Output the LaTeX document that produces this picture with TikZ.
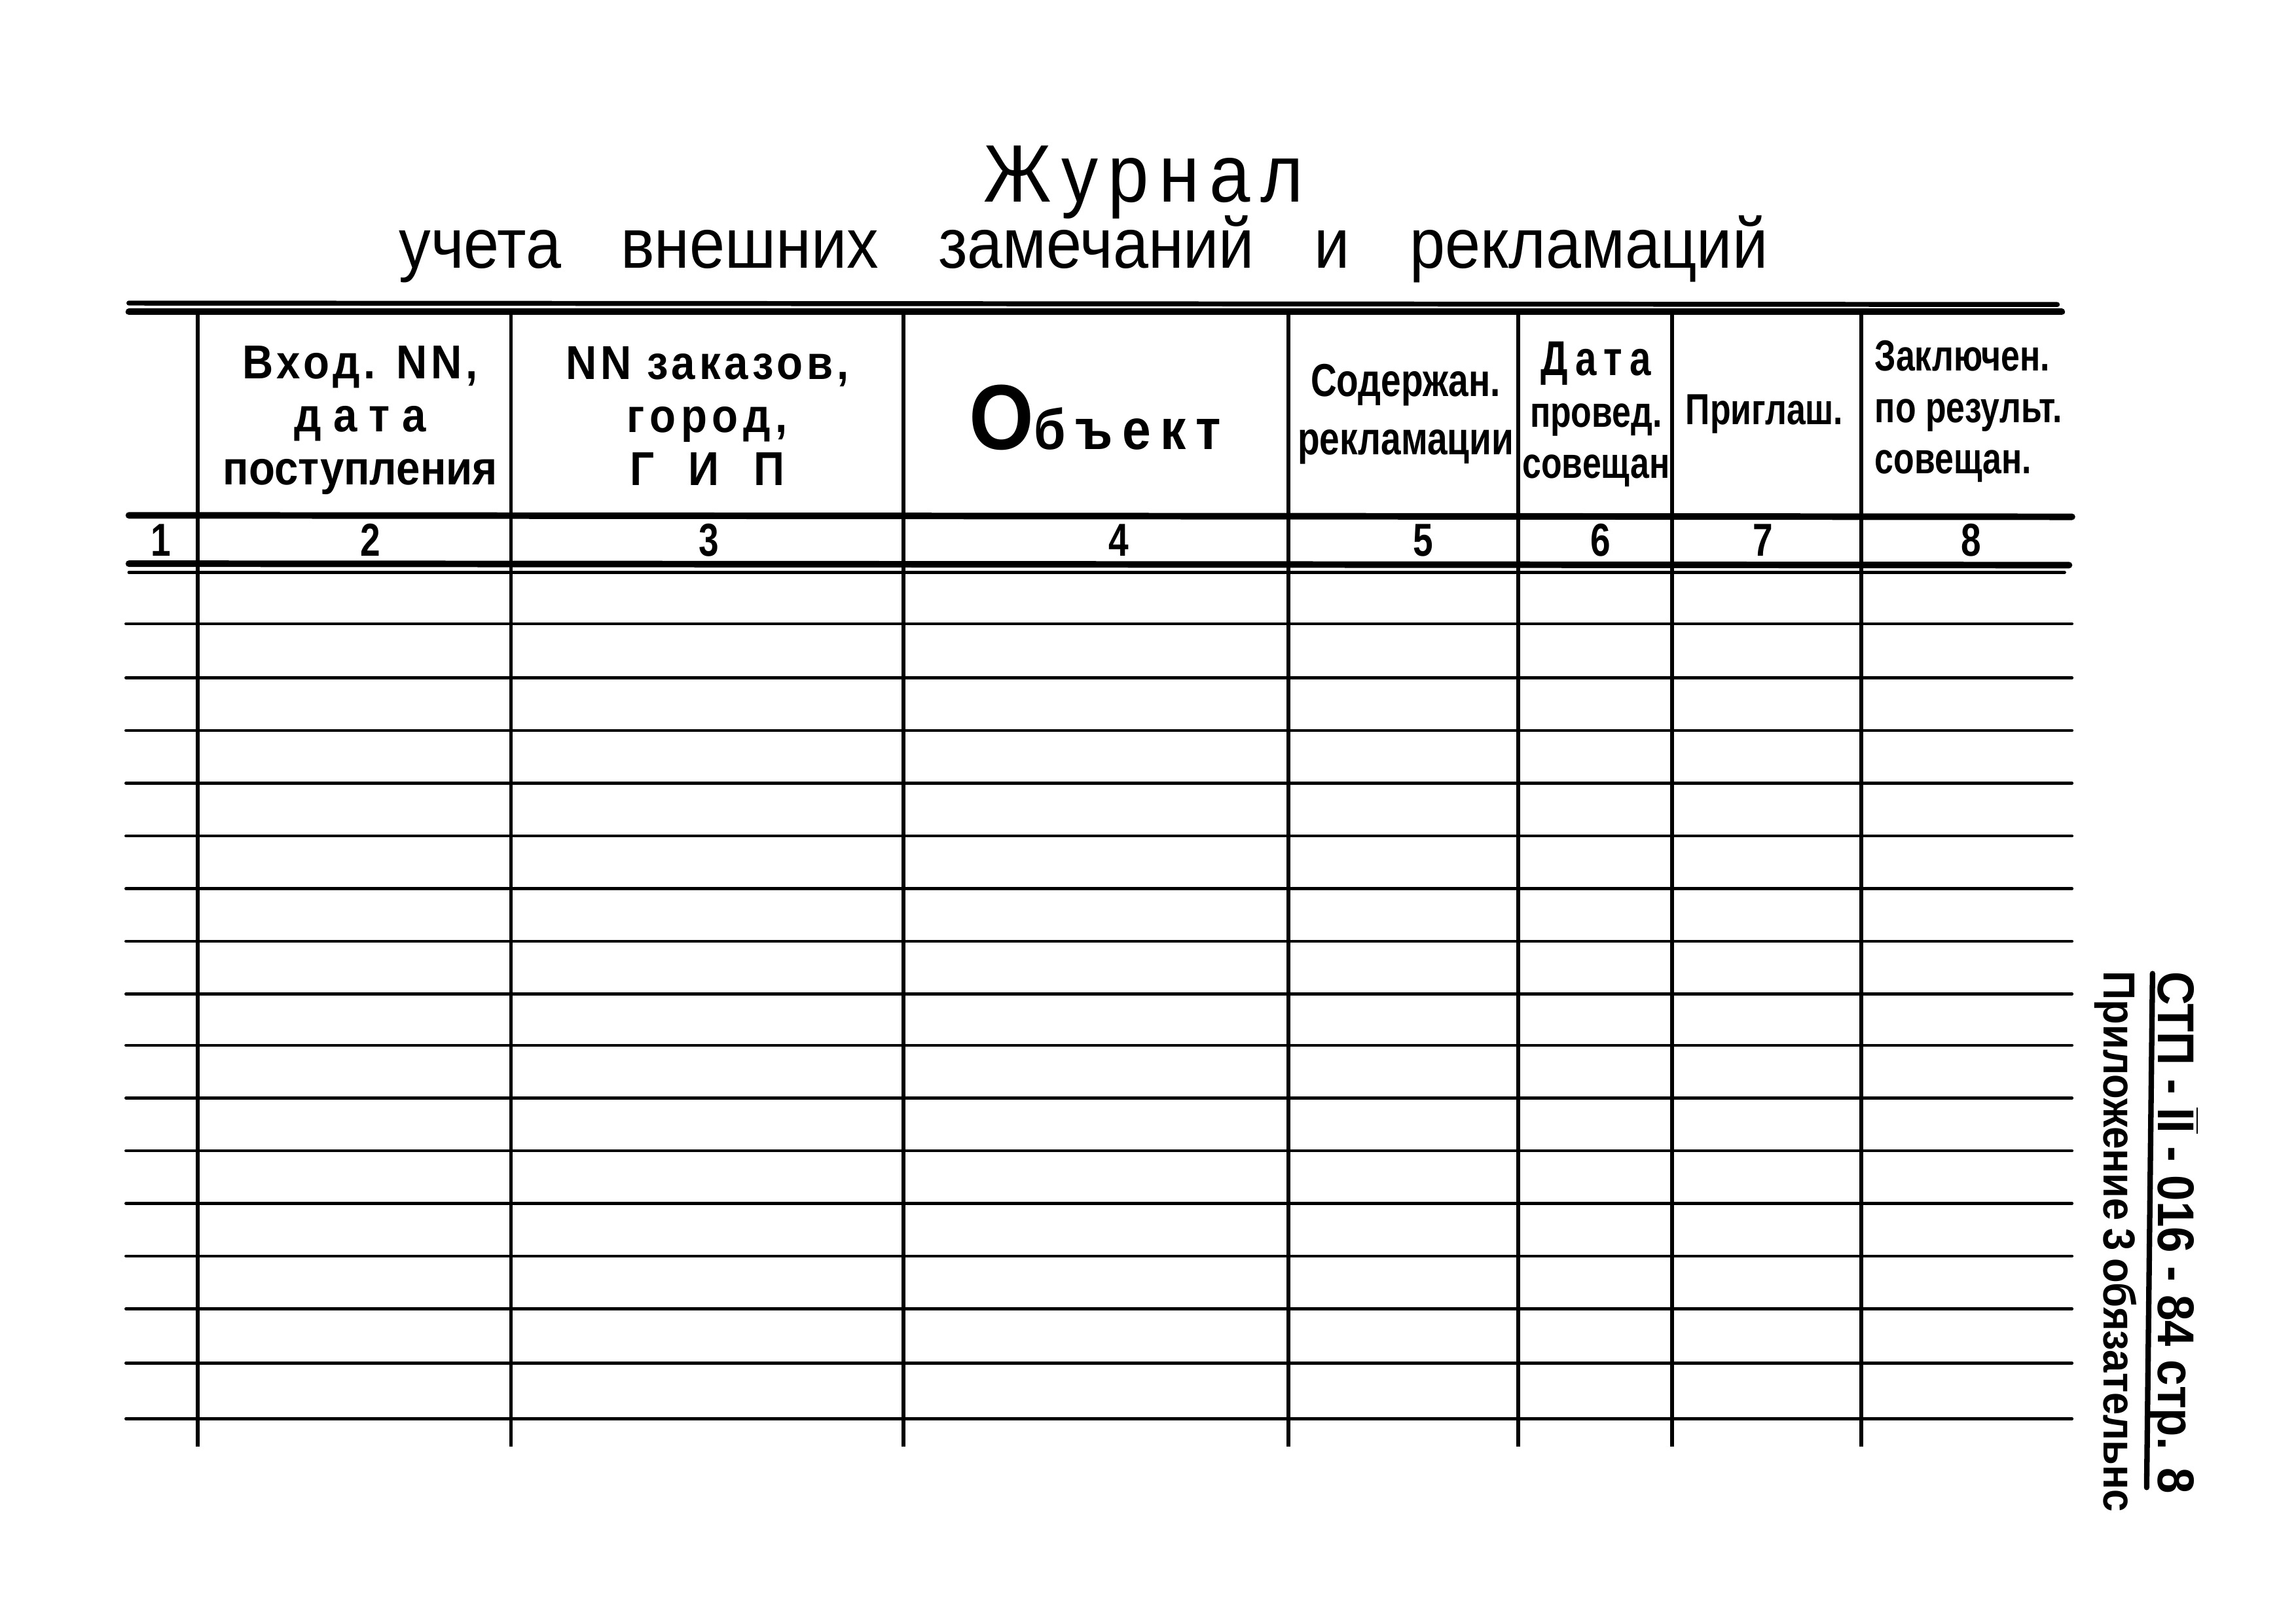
\documentclass[tikz,border=0pt]{standalone}
\usepackage{fontspec}
\setmainfont{Liberation Sans}
\newfontfamily\handf[FakeStretch=0.9]{Liberation Sans}
\newfontfamily\narrowf[FakeStretch=0.78]{Liberation Sans}
\usepackage{tikz}
\tikzstyle{head}=[font=\handf\bfseries\fontsize{17.5}{19.5}\selectfont,align=center,inner sep=0pt]
\tikzstyle{headn}=[font=\narrowf\bfseries\fontsize{16}{19}\selectfont,align=center,inner sep=0pt]
\tikzstyle{num}=[font=\narrowf\bfseries\fontsize{17}{18}\selectfont,inner sep=0pt]
\tikzstyle{rule}=[line width=1.1pt,line cap=round]
\tikzstyle{heavy}=[line width=2.4pt,line cap=round]
\tikzstyle{col}=[line width=1.4pt]

\begin{document}
\begin{tikzpicture}[x=0.018941cm,y=-0.018941cm]
\useasboundingbox (0,0) rectangle (1568,1109);
% title
\node[font=\handf\fontsize{30}{30}\selectfont,anchor=base,inner sep=0pt] (title) at (781,138)
	{\makebox[4.13cm][s]{Ж\hfill у\hfill р\hfill н\hfill а\hfill л}};
\node[font=\handf\fontsize{26}{26}\selectfont,anchor=base,inner sep=0pt] (subtitle) at (740,183)
	{\makebox[17.7cm][s]{учета внешних замечаний и рекламаций}};
% double rule on top
\draw[heavy,line width=1.8pt] (88,207) -- (1405,208);
\draw[heavy] (88,213) -- (1408,213);
% header and number row
\draw[heavy] (88,352) -- (1415,353);
\draw[heavy] (88,385) -- (1413,386);
\draw[rule] (88,391) -- (1410,391);
% empty rows
\foreach \y in {426,463,499,535,571,607,643,679,714,750,786,822,858,894,931,969}
	\draw[rule] (86,\y) -- (1415,\y);
% columns
\foreach \x in {135,349,617,880,1037,1142,1271}
	\draw[col] (\x,213) -- (\x,988);
% column heads
\node[head] (h2) at (246,287) {{\addfontfeature{LetterSpace=8}Вход. NN,}\\{\addfontfeature{LetterSpace=25}дата}\\поступления};
\node[head] (h3) at (483,284) {{\addfontfeature{LetterSpace=8}NN заказов,}\\\makebox[2.08cm][s]{г\hfill о\hfill р\hfill о\hfill д\hfill ,}\\\makebox[2cm][s]{Г И П}};
\node[inner sep=0pt,font=\handf\bfseries] (h4) at (748,285)
	{\fontsize{34}{34}\selectfont О{\addfontfeature{LetterSpace=17}\fontsize{21}{21}\selectfont бъект}};
\node[headn,font=\narrowf\bfseries\fontsize{17}{21.5}\selectfont] (h5) at (960,283) {Содержан.\\рекламации};
\node[headn] (h6) at (1090,283) {{\addfontfeature{LetterSpace=15}\fontsize{18}{19}\selectfont Дата}\\провед.\\совещан};
\node[headn] (h7) at (1205,283) {Приглаш.};
\node[headn,align=left,anchor=west] (h8) at (1280,281) {Заключен.\\по результ.\\совещан.};
% column numbers
\node[num] (n1) at (110,369) {1};
\node[num] (n2) at (253,369) {2};
\node[num] (n3) at (484,369) {3};
\node[num] (n4) at (764,369) {4};
\node[num] (n5) at (972,369) {5};
\node[num] (n6) at (1093,369) {6};
\node[num] (n7) at (1204,369) {7};
\node[num] (n8) at (1346,369) {8};
% stamp on the right
\draw[heavy,line width=2pt] (1470,665) -- (1466,1016);
\node[rotate=-90,inner sep=0pt,font=\handf\bfseries\fontsize{19}{19}\selectfont] (code) at (1484,842)
	{\makebox[6.76cm][s]{СТП - $\overline{\mbox{II}}$ - 016 - 84 стр. 8}};
\node[rotate=-90,inner sep=0pt,font=\handf\bfseries\fontsize{16.5}{16.5}\selectfont] (annex) at (1445,848)
	{\makebox[7cm][s]{Приложение 3 обязательнс}};
\end{tikzpicture}
\end{document}
